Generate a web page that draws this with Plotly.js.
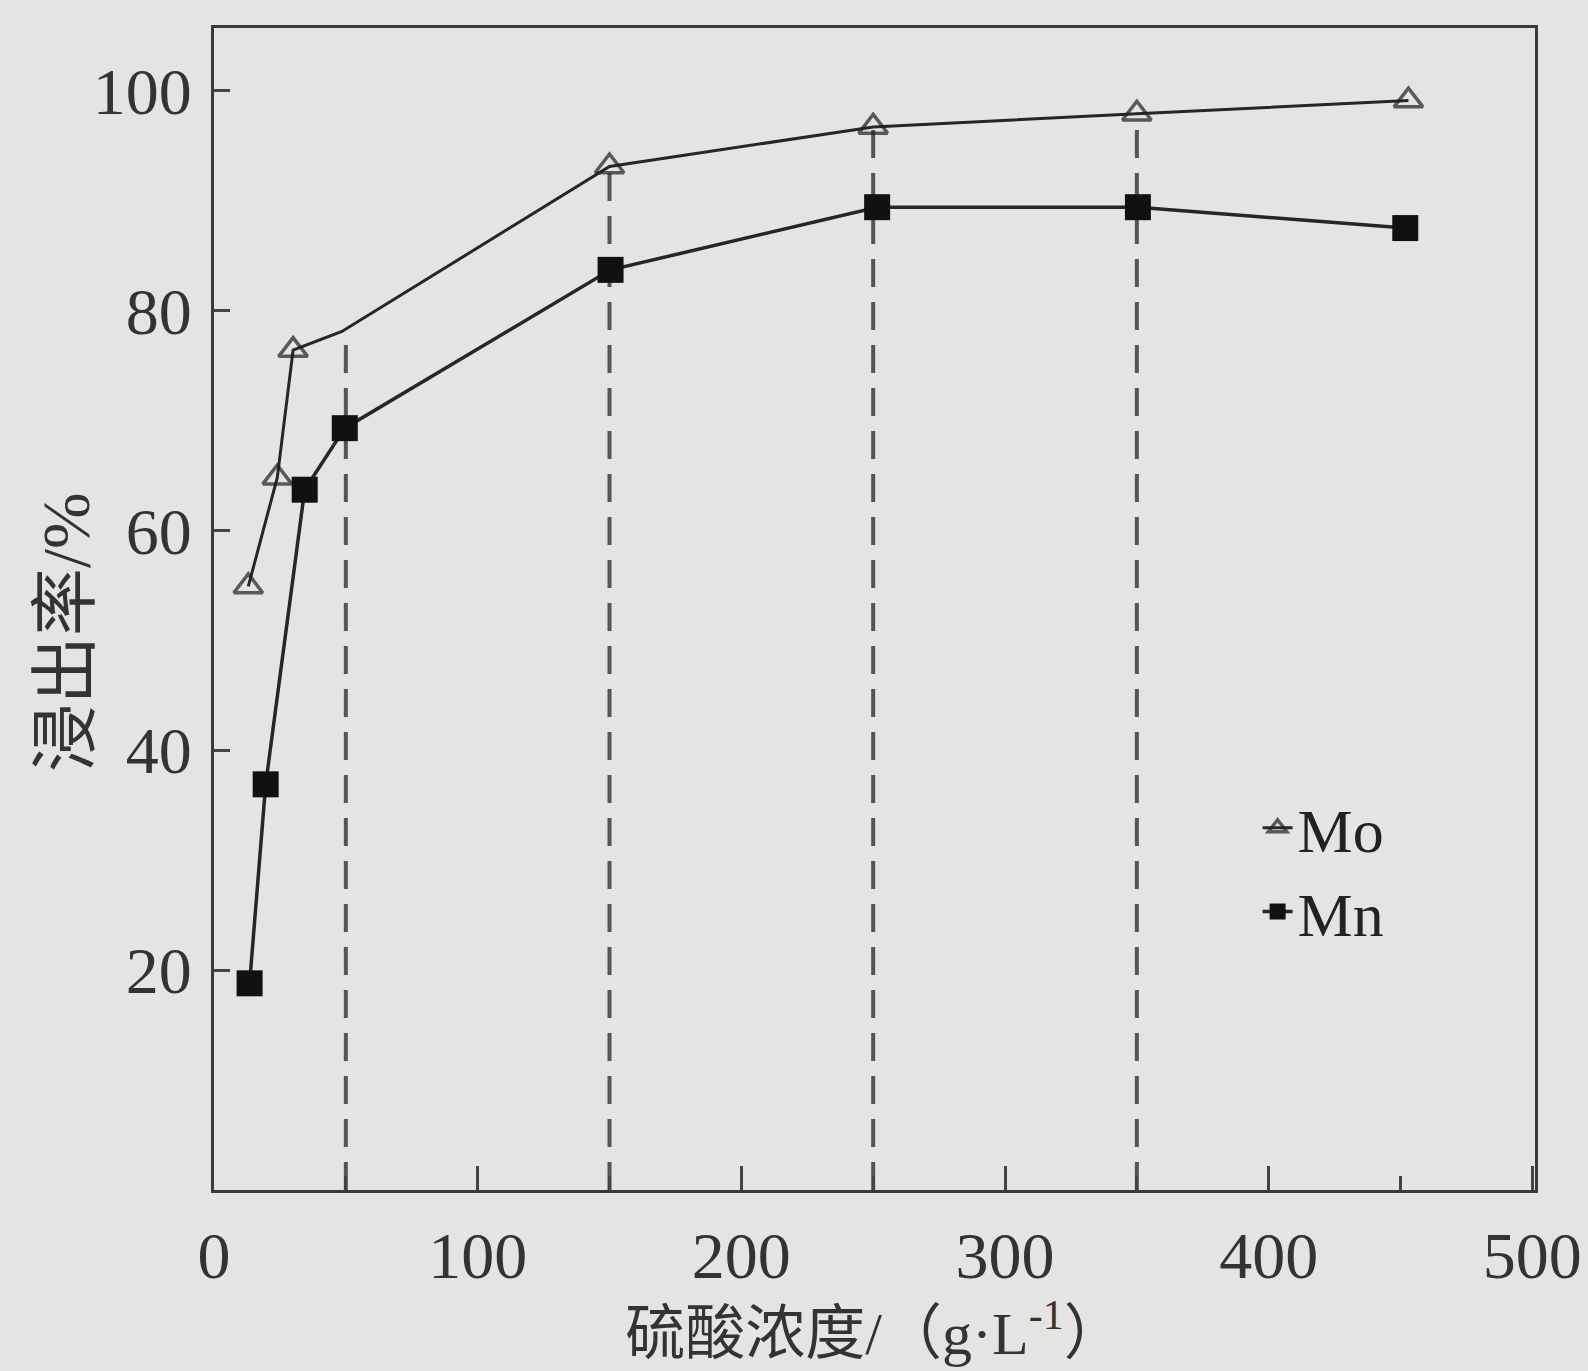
<!DOCTYPE html>
<html>
<head>
<meta charset="utf-8">
<script src="https://cdn.plot.ly/plotly-3.0.1.min.js"></script>
<style>
  html, body { margin: 0; padding: 0; background: #e4e4e2; }
  #chart { width: 1588px; height: 1371px; }
</style>
</head>
<body>
<div id="chart"></div>
<script>
// Sulfuric acid concentration (g/L) and leaching rate (%)
const moX = [13, 24, 30, 48.5, 150, 250, 350, 453];
const moY = [54.9, 64.8, 76.4, 78.1, 93.1, 96.7, 97.9, 99.1];
const mnX = [13.5, 19.6, 34.4, 49.6, 150.4, 251.5, 350.4, 451.8];
const mnY = [18.8, 36.9, 63.7, 69.3, 83.7, 89.4, 89.4, 87.5];
// vertical dashed guide lines: x position and top value
const guideX = [50, 150, 250, 350];
const guideTop = [78.1, 93.1, 96.7, 97.9];
const xTicks = [0, 100, 200, 300, 400, 500];
const yTicks = [20, 40, 60, 80, 100];
const xTitle = '硫酸浓度/（g·L<sup>-1</sup>）';
const yTitle = '浸出率/%';

const serif = 'Liberation Serif, Noto Sans CJK SC, serif';
const ink = '#262626';

const traces = [];
guideX.forEach((gx, i) => {
  traces.push({
    x: [gx, gx], y: [0, guideTop[i]],
    mode: 'lines', showlegend: false, hoverinfo: 'skip',
    line: { color: '#555', width: 4, dash: '28px,15px' }
  });
});
traces.push({
  x: moX, y: moY, name: 'Mo', mode: 'lines+markers',
  line: { color: ink, width: 3 },
  marker: { symbol: 'triangle-up-open', size: moX.map((v, i) => i === 3 ? 0 : 25),
            color: '#1e1e1e', line: { width: 3.5, color: '#1e1e1e' } }
});
traces.push({
  x: mnX, y: mnY, name: 'Mn', mode: 'lines+markers',
  line: { color: ink, width: 3.5 },
  marker: { symbol: 'square', size: 26, color: '#111' }
});

const layout = {
  width: 1588, height: 1371,
  paper_bgcolor: '#e4e4e2', plot_bgcolor: '#e4e4e2',
  margin: { l: 214, r: 53, t: 28, b: 181 },
  showlegend: true,
  legend: {
    x: 0.79, y: 0.352, xanchor: 'left', yanchor: 'top',
    bgcolor: 'rgba(0,0,0,0)', font: { family: serif, size: 62, color: '#222' },
    tracegroupgap: 0
  },
  annotations: [{
    text: yTitle, xref: 'paper', yref: 'paper', x: -0.1115, y: 0.48,
    xanchor: 'center', yanchor: 'middle', textangle: -90, showarrow: false,
    font: { family: serif, size: 68, color: '#333' }
  }],
  xaxis: {
    range: [0, 501], tickvals: xTicks, ticktext: xTicks.map(String),
    ticks: 'inside', ticklen: 24, tickwidth: 3, tickcolor: '#444',
    minor: { dtick: 50, tick0: 0, ticks: 'inside', ticklen: 14, tickwidth: 3, tickcolor: '#444' },
    showline: true, linecolor: '#3a3a3a', linewidth: 3, mirror: true,
    showgrid: false, zeroline: false,
    tickfont: { family: serif, size: 66, color: '#333' },
    ticklabelstandoff: 6,
    title: { text: xTitle, font: { family: serif, size: 60, color: '#333' }, standoff: 16 }
  },
  yaxis: {
    range: [0, 105.7], tickvals: yTicks, ticktext: yTicks.map(String),
    ticks: 'inside', ticklen: 16, tickwidth: 3, tickcolor: '#444',
    showline: true, linecolor: '#3a3a3a', linewidth: 3, mirror: true,
    showgrid: false, zeroline: false,
    tickfont: { family: serif, size: 66, color: '#333' },
    ticklabelstandoff: 6
  }
};

Plotly.newPlot('chart', traces, layout, { displayModeBar: false, staticPlot: true });
</script>
</body>
</html>
